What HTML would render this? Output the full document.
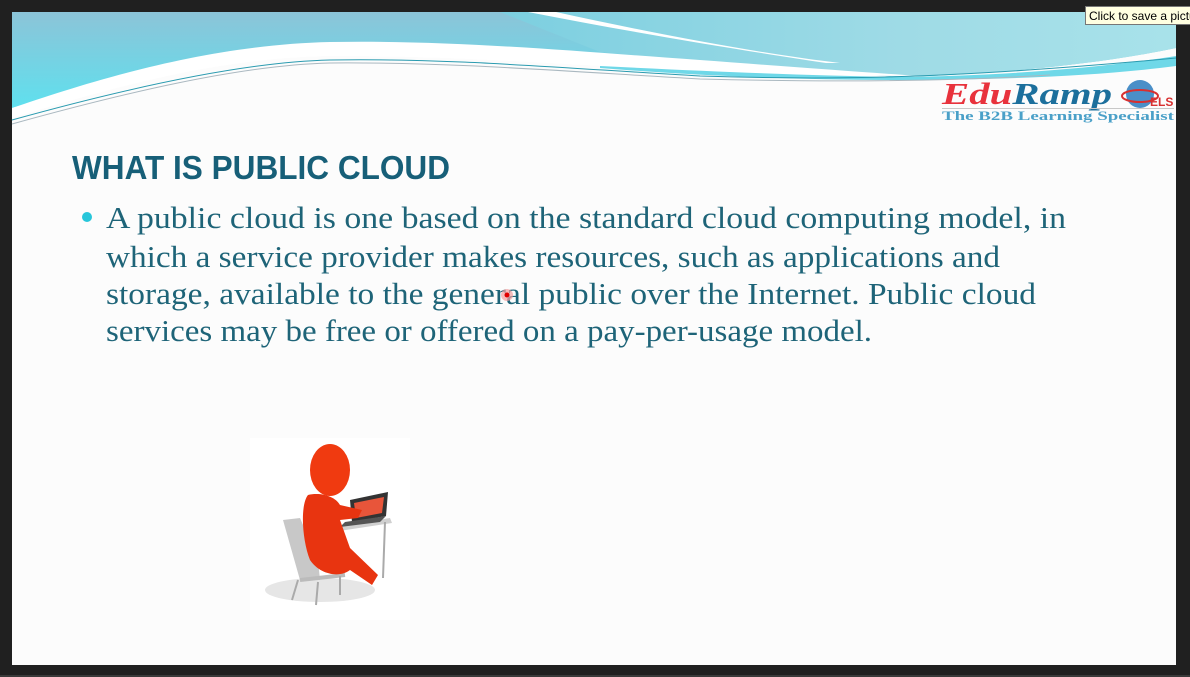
<!DOCTYPE html>
<html><head><meta charset="utf-8"><style>
html,body{margin:0;padding:0;background:#202020;width:1190px;height:677px;overflow:hidden}
svg{display:block}
</style></head><body>
<svg width="1190" height="677" viewBox="0 0 1190 677" xmlns="http://www.w3.org/2000/svg">
<defs>
<linearGradient id="bl" x1="0" y1="0" x2="0" y2="1">
<stop offset="0" stop-color="#8cc4d8"/><stop offset="1" stop-color="#5fe0ee"/>
</linearGradient>
<linearGradient id="bl2" x1="0" y1="0" x2="1" y2="0">
<stop offset="0" stop-color="#7ccfe0"/><stop offset="0.6" stop-color="#9fdbe6"/><stop offset="1" stop-color="#a8e2ea"/>
</linearGradient>
</defs>
<rect x="0" y="0" width="1190" height="677" fill="#202020"/>
<rect x="0" y="675" width="1190" height="2" fill="#3a3a3a"/>
<rect x="12" y="12" width="1164" height="653" fill="#fcfcfc"/>
<path d="M12,12 H1176 V48 C1100,64 1000,74 900,77 C820,72 700,66 600,55 C450,40 300,40 150,70 C90,85 40,100 12,108 Z" fill="url(#bl)"/>
<path d="M500,12 H1176 V48 C1100,64 1000,74 900,77 C820,72 700,62 600,52 Z" fill="url(#bl2)"/>
<path d="M12,108 C80,85 200,45 330,42 C450,40 560,50 700,60 C780,66 860,72 920,76 C820,76 700,72 600,66 C500,60 420,56 330,56 C220,58 120,85 12,118 Z" fill="#ffffff"/>
<path d="M528,12 L556,12 C660,35 770,55 840,63 L826,63 C740,50 630,32 528,12 Z" fill="#ffffff"/>
<path d="M600,66 C720,72 820,76 900,77 C1000,76 1100,68 1176,56 V66 C1100,76 1000,80 900,80 C800,80 700,76 600,68 Z" fill="#6fd8e8"/>
<path d="M12,120 C120,90 240,62 330,60 C450,58 560,68 700,76 C820,80 940,80 1176,58" fill="none" stroke="#2a9bb0" stroke-width="1"/>
<path d="M12,124 C120,94 240,65 330,63 C450,62 560,71 700,79 C820,82 940,82 1050,75" fill="none" stroke="#aab8c0" stroke-width="1"/>
<text x="942" y="104" font-family="Liberation Serif, serif" font-weight="bold" font-style="italic" font-size="31" textLength="170" lengthAdjust="spacingAndGlyphs"><tspan fill="#e8323c">Edu</tspan><tspan fill="#1c6f9c">Ramp</tspan></text>
<circle cx="1140" cy="94" r="14" fill="#4a8fc8"/>
<ellipse cx="1140" cy="96" rx="18" ry="6" fill="none" stroke="#d83030" stroke-width="2"/>
<text x="1150" y="106" font-family="Liberation Sans, sans-serif" font-weight="bold" font-size="12" fill="#d83030">ELS</text>
<rect x="942" y="108" width="232" height="1" fill="#c8c8c8"/>
<text x="942" y="120" font-family="Liberation Serif, serif" font-weight="bold" font-size="13" fill="#4aa0c8" textLength="232" lengthAdjust="spacingAndGlyphs">The B2B Learning Specialist</text>
<rect x="1085.5" y="6.5" width="110" height="18" fill="#ffffe1" stroke="#767676"/>
<text x="1089" y="20" font-family="Liberation Sans, sans-serif" font-size="12" fill="#000">Click to save a picture</text>
<text x="72" y="179" font-family="Liberation Sans, sans-serif" font-weight="bold" font-size="33" fill="#175f78" textLength="378" lengthAdjust="spacingAndGlyphs">WHAT IS PUBLIC CLOUD</text>
<circle cx="87" cy="217" r="5" fill="#27c6da"/>
<g font-family="Liberation Serif, serif" font-size="31" fill="#1e6478">
<text x="106" y="228" textLength="960" lengthAdjust="spacingAndGlyphs">A public cloud is one based on the standard cloud computing model, in</text>
<text x="106" y="267" textLength="894" lengthAdjust="spacingAndGlyphs">which a service provider makes resources, such as applications and</text>
<text x="106" y="304" textLength="930" lengthAdjust="spacingAndGlyphs">storage, available to the general public over the Internet. Public cloud</text>
<text x="106" y="341" textLength="766" lengthAdjust="spacingAndGlyphs">services may be free or offered on a pay-per-usage model.</text>
</g>
<circle cx="507" cy="295" r="6" fill="#f4a0a0" opacity="0.7"/>
<circle cx="507" cy="295" r="2.5" fill="#e00000"/>
<rect x="250" y="438" width="160" height="182" fill="#ffffff"/>
<ellipse cx="320" cy="590" rx="55" ry="12" fill="#e6e6e6"/>
<path d="M283,520 L300,518 L318,560 L320,580 L300,580 Z" fill="#c8c8c8"/>
<path d="M300,580 L345,575" stroke="#bbb" stroke-width="4"/>
<path d="M298,580 L292,600 M318,582 L316,605 M340,576 L340,595" stroke="#aaa" stroke-width="2"/>
<path d="M322,528 L390,518 L392,523 L326,533 Z" fill="#d0d0d0"/>
<path d="M385,522 L383,578 M330,533 L330,570" stroke="#aaa" stroke-width="2"/>
<path d="M350,500 L388,492 L386,516 L352,522 Z" fill="#333"/>
<path d="M354,503 L384,497 L382,513 L356,518 Z" fill="#e8553a"/>
<path d="M345,522 L386,516 L380,522 L340,527 Z" fill="#555"/>
<ellipse cx="330" cy="470" rx="20" ry="26" fill="#f03a10"/>
<path d="M308,495 C300,505 302,540 310,560 C320,575 340,578 350,570 L372,585 L378,575 L350,548 L340,520 L358,518 L362,510 L340,505 C335,496 320,492 308,495 Z" fill="#e83410"/>
</svg>
</body></html>
